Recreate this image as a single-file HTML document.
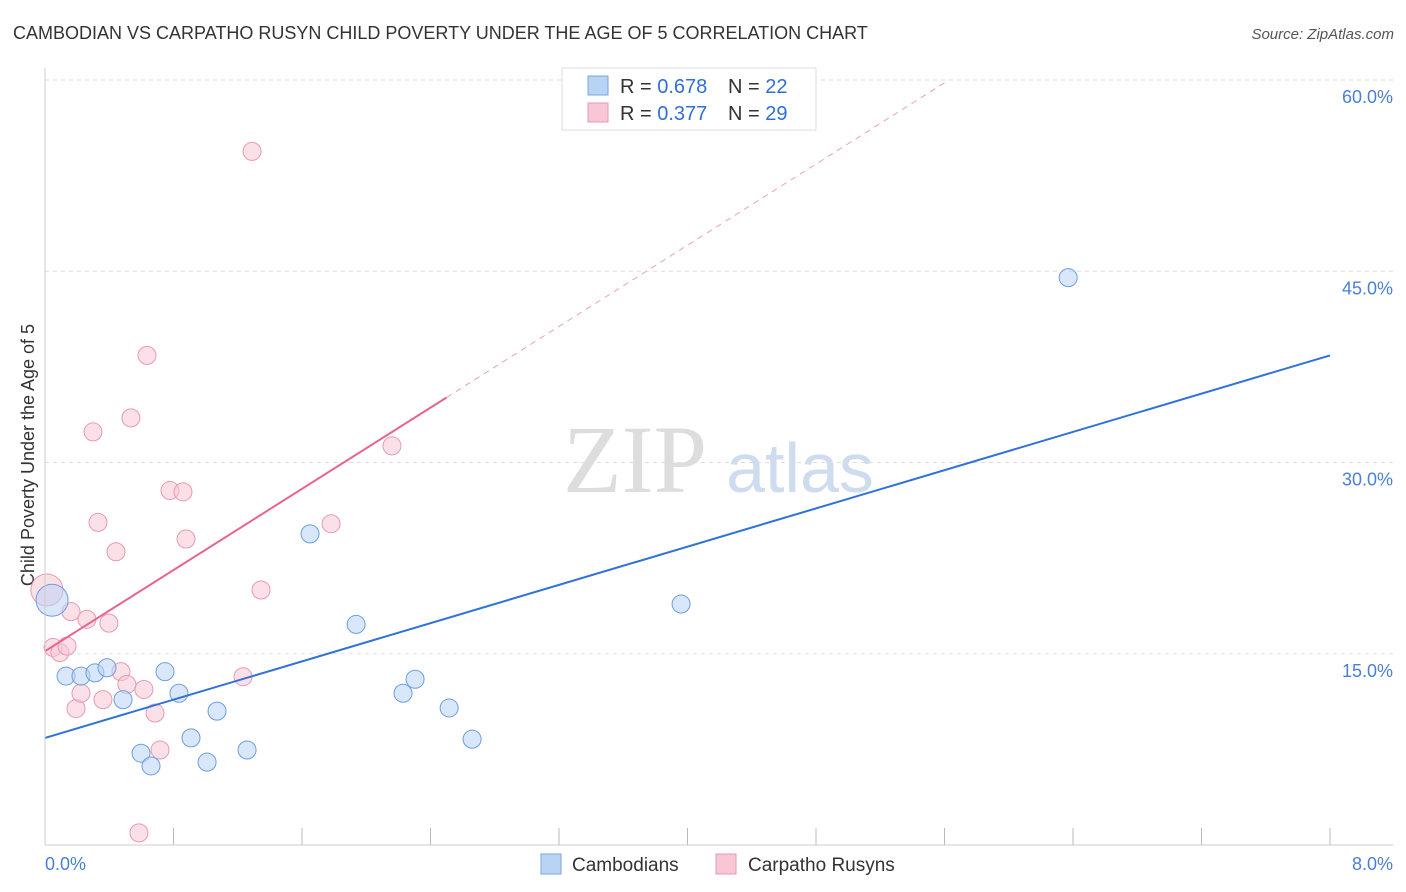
<!DOCTYPE html>
<html><head><meta charset="utf-8"><style>
body{margin:0;background:#fff;font-family:"Liberation Sans",sans-serif;}
#wrap{position:relative;width:1406px;height:892px;overflow:hidden}
</style></head><body>
<div id="wrap">
<svg id="svg" width="1406" height="892" xmlns="http://www.w3.org/2000/svg">
<text x="13" y="39" font-size="18" fill="#333">CAMBODIAN VS CARPATHO RUSYN CHILD POVERTY UNDER THE AGE OF 5 CORRELATION CHART</text>
<text x="1394" y="39" font-size="15" fill="#555" font-style="italic" text-anchor="end">Source: ZipAtlas.com</text>
<text x="34" y="455" font-size="18" fill="#333" text-anchor="middle" transform="rotate(-90 34 455)">Child Poverty Under the Age of 5</text>
<text x="635" y="492" font-size="96" fill="#ddd" font-family="Liberation Serif,serif" text-anchor="middle">ZIP</text>
<text x="800" y="492" font-size="70" fill="#cfdcef" text-anchor="middle">atlas</text>
<g id="grid"></g><g id="marks"></g>
<line x1="45" y1="68" x2="45" y2="845" stroke="#ccc"/>
<line x1="45" y1="845" x2="1393" y2="845" stroke="#ccc"/>
<text x="45" y="870" font-size="18" fill="#4a7fd6">0.0%</text>
<text x="1393" y="870" font-size="18" fill="#4a7fd6" text-anchor="end">8.0%</text>
<g>
<rect x="562" y="68" width="254" height="62" fill="#fff" stroke="#ddd"/>
<rect x="588" y="76" width="20" height="19" fill="#b9d3f5" stroke="#7aa6e0"/>
<rect x="588" y="103" width="20" height="19" fill="#f9c6d6" stroke="#e89ab3"/>
<text x="620" y="93" font-size="20" fill="#333">R = <tspan fill="#2f6fd6">0.678</tspan></text>
<text x="728" y="93" font-size="20" fill="#333">N = <tspan fill="#2f6fd6">22</tspan></text>
<text x="620" y="120" font-size="20" fill="#333">R = <tspan fill="#2f6fd6">0.377</tspan></text>
<text x="728" y="120" font-size="20" fill="#333">N = <tspan fill="#2f6fd6">29</tspan></text>
</g>
<g>
<rect x="541" y="854" width="20" height="20" fill="#b9d3f5" stroke="#7aa6e0"/>
<text x="572" y="871" font-size="19" fill="#333">Cambodians</text>
<rect x="716" y="854" width="20" height="20" fill="#f9c6d6" stroke="#e89ab3"/>
<text x="748" y="871" font-size="19" fill="#333">Carpatho Rusyns</text>
</g>
</svg></div>
<script>
const yTicks=[15,30,45,60];
const yTickLabels=["15.0%","30.0%","45.0%","60.0%"];
const xTicks=[0,0.8,1.6,2.4,3.2,4,4.8,5.6,6.4,7.2,8];
const blueX=[0.044,0.131,0.224,0.311,0.386,0.486,0.598,0.66,0.747,0.834,0.909,1.009,1.071,1.258,1.65,1.937,2.229,2.304,2.516,2.659,3.96,6.37];
const blueY=[19.2,13.25,13.25,13.5,13.9,11.4,7.2,6.2,13.6,11.9,8.4,6.5,10.5,7.45,24.4,17.3,11.9,13.0,10.75,8.3,18.9,44.5];
const pinkX=[0.012,0.05,0.093,0.137,0.162,0.193,0.224,0.261,0.299,0.33,0.361,0.398,0.442,0.473,0.51,0.535,0.585,0.616,0.635,0.685,0.716,0.778,0.859,0.878,1.233,1.289,1.345,1.781,2.16];
const pinkY=[20,15.5,15.1,15.6,18.3,10.7,11.9,17.7,32.4,25.3,11.4,17.4,23,13.6,12.6,33.5,0.95,12.2,38.4,10.35,7.45,27.8,27.7,24,13.2,54.4,20,25.2,31.3];
const blueTrend=[8.4,3.75];
const pinkTrend=[15.2,7.96];
const NS="http://www.w3.org/2000/svg";
const sx=v=>45+v*160.625, sy=v=>845-v*12.75;
function mk(t,a,p){const e=document.createElementNS(NS,t);for(const k in a)e.setAttribute(k,a[k]);p.appendChild(e);return e;}
const grid=document.getElementById('grid'),marks=document.getElementById('marks');
yTicks.forEach((t,i)=>{
 const l=mk('line',{x1:45,x2:1393,y1:sy(t),y2:sy(t),stroke:'#ddd','stroke-dasharray':'4,4'},grid);
 
 
 const tx=mk('text',{x:1393,y:sy(t)+23,'font-size':18,fill:'#4a7fd6','text-anchor':'end'},grid);
 tx.textContent=yTickLabels[i];
 
 
});
xTicks.forEach(t=>{
 const l=mk('line',{x1:sx(t),x2:sx(t),y1:828,y2:845,stroke:'#bbb'},grid);
 
 
});
function pts(X,Y,fill,stroke,name){X.forEach((x,i)=>{
 const big=i===0;
 const c=mk('circle',{cx:sx(x),cy:sy(Y[i]),r:big?16:9,fill:fill,'fill-opacity':0.55,stroke:stroke,'stroke-width':1},marks);
 
 
});}
pts(pinkX,pinkY,'#f9c6d6','#e89ab3','pink-point');
pts(blueX,blueY,'#b9d3f5','#6d9ee0','blue-point');
let l=mk('line',{x1:sx(0),y1:sy(blueTrend[0]),x2:sx(8),y2:sy(blueTrend[0]+8*blueTrend[1]),stroke:'#2f72d8','stroke-width':2},marks);


l=mk('line',{x1:sx(0),y1:sy(pinkTrend[0]),x2:sx(2.5),y2:sy(pinkTrend[0]+2.5*pinkTrend[1]),stroke:'#e8648f','stroke-width':2},marks);


const xe=(60-pinkTrend[0])/pinkTrend[1];
l=mk('line',{x1:sx(2.5),y1:sy(pinkTrend[0]+2.5*pinkTrend[1]),x2:sx(xe),y2:sy(60),stroke:'#eaa0b8','stroke-width':1,'stroke-dasharray':'6,5'},marks);


</script>
</body></html>
